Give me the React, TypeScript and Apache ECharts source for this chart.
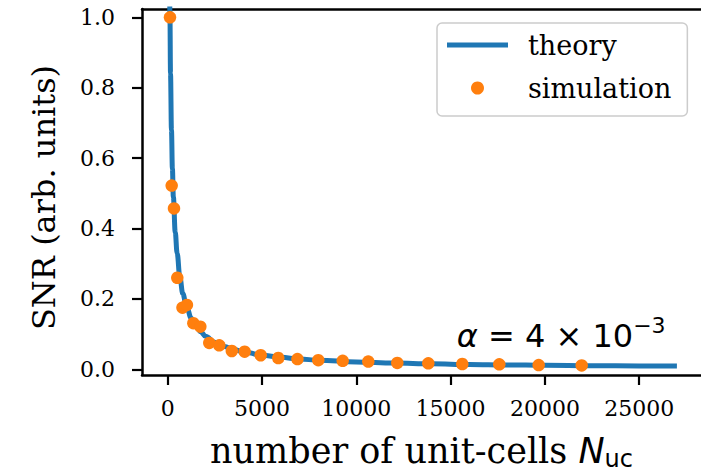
import React, { useEffect, useRef } from "react";
import * as echarts from "echarts";

// Theory curve: SNR vs number of unit cells
const theoryN = [100, 120, 150, 200, 250, 300, 400, 500, 650, 800, 1000, 1250, 1500, 1750, 2000, 2500, 3000, 3500, 4000, 5000, 6000, 7000, 8000, 10000, 12000, 14000, 16000, 18000, 20000, 22500, 25000, 27000];
const theorySNR = [1.12, 1.0, 0.84, 0.68, 0.57, 0.49, 0.39, 0.33, 0.26, 0.215, 0.178, 0.145, 0.123, 0.107, 0.094, 0.077, 0.065, 0.056, 0.05, 0.04, 0.034, 0.029, 0.026, 0.021, 0.018, 0.0155, 0.0138, 0.0125, 0.0114, 0.0103, 0.0096, 0.0092];

// Simulated points
const simN = [122, 212, 334, 509, 785, 1020, 1360, 1730, 2205, 2735, 3400, 4080, 4931, 5864, 6880, 7985, 9279, 10636, 12174, 13818, 15620, 17582, 19671, 21951];
const simSNR = [1.0, 0.522, 0.457, 0.26, 0.175, 0.183, 0.131, 0.121, 0.075, 0.068, 0.052, 0.05, 0.04, 0.032, 0.029, 0.026, 0.024, 0.022, 0.018, 0.017, 0.015, 0.014, 0.012, 0.011];

const xTicks = [0, 5000, 10000, 15000, 20000, 25000];
const yTicks = [0, 0.2, 0.4, 0.6, 0.8, 1.0];

const BLUE = "#1f77b4";
const ORANGE = "#ff7f0e";
const SERIF = "DejaVu Serif";
const SANS = "DejaVu Sans";

export default function App() {
  const ref = useRef<HTMLDivElement>(null);

  useEffect(() => {
    const chart = echarts.init(ref.current!, null, { renderer: "svg" });
    const xRange = { min: -1362, max: 28277 };
    const spine = { color: "#000", width: 2.5 };

    chart.setOption({
      animation: false,
      backgroundColor: "#ffffff",
      grid: { left: 142, top: 9, right: 0, bottom: 98 },
      xAxis: [
        {
          type: "value",
          ...xRange,
          position: "bottom",
          axisLine: { show: true, onZero: false, lineStyle: spine },
          axisTick: { show: true, customValues: xTicks, length: 10, lineStyle: { color: "#000", width: 2.2 } },
          axisLabel: {
            customValues: xTicks,
            formatter: (v: number) => String(v),
            fontFamily: SERIF,
            fontSize: 22,
            color: "#000",
            margin: 22,
          },
          splitLine: { show: false },
        },
        {
          type: "value",
          ...xRange,
          position: "top",
          axisLine: { show: true, onZero: false, lineStyle: spine },
          axisTick: { show: false },
          axisLabel: { show: false },
          splitLine: { show: false },
        },
      ],
      yAxis: {
        type: "value",
        min: -0.0162,
        max: 1.0236,
        axisLine: { show: true, onZero: false, lineStyle: spine },
        axisTick: { show: true, customValues: yTicks, length: 10, lineStyle: { color: "#000", width: 2.2 } },
        axisLabel: {
          customValues: yTicks,
          formatter: (v: number) => v.toFixed(1),
          fontFamily: SERIF,
          fontSize: 22,
          color: "#000",
          margin: 27,
        },
        splitLine: { show: false },
      },
      legend: {
        orient: "vertical",
        left: 437,
        top: 23,
        padding: [7, 16, 13, 10],
        itemWidth: 61,
        itemHeight: 13,
        itemGap: 13,
        backgroundColor: "rgba(255,255,255,0.8)",
        borderColor: "#cccccc",
        borderWidth: 1.5,
        borderRadius: 5,
        textStyle: { fontFamily: SERIF, fontSize: 27, color: "#000", lineHeight: 30, padding: [0, 0, 0, 15] },
        data: [
          { name: "theory", icon: "path://M0,0 H61 V5 H0 Z" },
          { name: "simulation", icon: "circle" },
        ],
      },
      series: [
        {
          name: "theory",
          type: "line",
          data: theoryN.map((n, i) => [n, theorySNR[i]]),
          symbol: "none",
          smooth: 0.4,
          smoothMonotone: "x",
          clip: true,
          lineStyle: { color: BLUE, width: 5 },
          itemStyle: { color: BLUE },
          z: 2,
        },
        {
          name: "simulation",
          type: "scatter",
          data: simN.map((n, i) => [n, simSNR[i]]),
          symbolSize: 12.5,
          itemStyle: { color: ORANGE, opacity: 1 },
          z: 3,
        },
      ],
      graphic: [
        {
          type: "text",
          x: 44,
          y: 197.5,
          rotation: Math.PI / 2,
          style: {
            text: "SNR (arb. units)",
            fontFamily: SERIF,
            fontSize: 32,
            fill: "#000",
            align: "center",
            verticalAlign: "middle",
          },
        },
        {
          type: "text",
          x: 421.5,
          y: 433,
          style: {
            text: "{t|number of unit-cells }{n|N}{s|uc}",
            align: "center",
            verticalAlign: "top",
            rich: {
              t: { fontFamily: SERIF, fontSize: 35, fill: "#000", verticalAlign: "top", padding: [0, 0, 3, 0] },
              n: { fontFamily: SANS, fontStyle: "italic", fontSize: 35, fill: "#000", verticalAlign: "top", padding: [0, 0, 3, 0] },
              s: { fontFamily: SANS, fontSize: 24, fill: "#000", verticalAlign: "bottom" },
            },
          },
        },
        {
          type: "text",
          x: 456.7,
          y: 314.5,
          style: {
            text: "{a|α}{b| = 4 × 10}{c|−3}",
            align: "left",
            verticalAlign: "top",
            rich: {
              a: { fontFamily: SANS, fontStyle: "italic", fontSize: 32, fill: "#000", verticalAlign: "bottom", padding: [5, 0, 0, 0] },
              b: { fontFamily: SANS, fontSize: 32, fill: "#000", verticalAlign: "bottom", padding: [5, 0, 0, 0] },
              c: { fontFamily: SANS, fontSize: 22, fill: "#000", verticalAlign: "top" },
            },
          },
        },
      ],
    });

    return () => chart.dispose();
  }, []);

  return (
    <div
      ref={ref}
      style={{ position: "absolute", left: 0, top: 0, width: 701, height: 473, background: "#fff" }}
    />
  );
}
